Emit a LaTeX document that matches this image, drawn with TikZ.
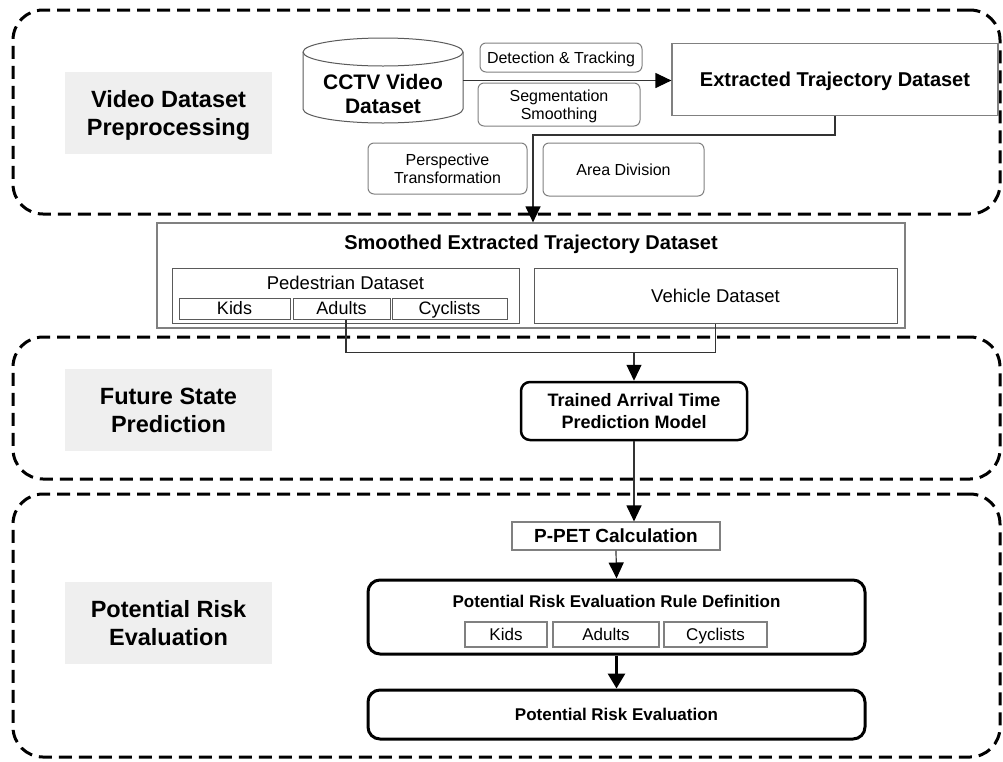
\documentclass[tikz,border=0pt]{standalone}
\usepackage{fontspec}
\setmainfont{Liberation Sans}
\usetikzlibrary{arrows.meta,calc}
\definecolor{lblgray}{HTML}{EFEFEF}
\definecolor{bordgray}{HTML}{808080}
\definecolor{subgray}{HTML}{5A5A5A}
\definecolor{lncol}{HTML}{333333}
\tikzset{
 region/.style={draw=black, line width=3pt, dash pattern=on 13pt off 7pt, rounded corners=30pt, inner sep=0pt},
 lbl/.style={fill=lblgray, align=center, font=\fontsize{23.5}{28}\selectfont\bfseries, minimum width=207pt, minimum height=82pt, inner sep=0pt, text depth=0pt},
 opbox/.style={draw=bordgray, line width=1pt, rounded corners=6pt, align=center, font=\fontsize{16}{18}\selectfont, inner sep=0pt},
 dbox/.style={draw=bordgray, line width=1.2pt, align=center, inner sep=0pt},
 subbox/.style={draw=subgray, line width=1pt, inner sep=0pt},
 oneline/.style={text height=#1, text depth=0pt},
 mbox/.style={draw=black, line width=2.5pt, rounded corners=9pt, align=center, inner sep=0pt},
 arr/.style={draw=lncol, line width=1.2pt, -{Triangle[length=16pt,width=15pt,color=black]}},
 ln/.style={draw=lncol, line width=1.2pt},
 plain/.style={inner sep=0pt, align=center},
}
\begin{document}
\begin{tikzpicture}[x=1pt,y=-1pt]
\useasboundingbox (0,0) rectangle (1003,761);
% regions
\node[region, minimum width=987pt, minimum height=204pt] (r1) at (506.5,112) {};
\node[region, minimum width=987pt, minimum height=142pt] (r2) at (506.5,408) {};
\node[region, minimum width=987pt, minimum height=263pt] (r3) at (506.5,625.5) {};
% stage labels
\node[lbl] (l1) at (168.5,112.5) {Video Dataset\\Preprocessing};
\node[lbl] (l2) at (168.5,410) {Future State\\Prediction};
\node[lbl] (l3) at (168.5,623) {Potential Risk\\Evaluation};
% cylinder
\draw[line width=1pt, draw=subgray, fill=white] (303,52) -- (303,109)
  arc[start angle=180, end angle=360, x radius=80pt, y radius=14pt] -- (463,52)
  arc[start angle=0, end angle=180, x radius=80pt, y radius=14pt] -- cycle;
\draw[line width=1pt, draw=subgray] (303,52) arc[start angle=180, end angle=360, x radius=80pt, y radius=14pt];
\node[minimum width=160pt, minimum height=85pt, inner sep=0pt] (cctv) at (383,80.5) {};
\node[plain, font=\fontsize{21}{24}\selectfont\bfseries] (cctvlbl) at (383,94) {CCTV Video\\Dataset};
% operations
\node[opbox, minimum width=162pt, minimum height=29pt, oneline=11.5pt] (det) at (561,57.5) {Detection \& Tracking};
\node[opbox, minimum width=162pt, minimum height=43pt, text depth=0pt] (seg) at (559,104.5) {Segmentation\\Smoothing};
\node[opbox, minimum width=159pt, minimum height=51pt] (persp) at (447.5,168.5) {Perspective\\Transformation};
\node[opbox, minimum width=161pt, minimum height=53pt, oneline=11.5pt] (area) at (623.5,169.5) {Area Division};
% extracted
\node[dbox, minimum width=326pt, minimum height=72pt, oneline=14.3pt, font=\fontsize{20}{24}\selectfont\bfseries] (ext) at (835,79.5) {Extracted Trajectory Dataset};
\draw[arr] (cctv.east) -- (cctv.east -| ext.west);
% smoothed dataset
\node[dbox, minimum width=748pt, minimum height=105pt] (smooth) at (531,275.5) {};
\node[plain, font=\fontsize{20}{24}\selectfont\bfseries] (smtitle) at (531,244) {Smoothed Extracted Trajectory Dataset};
\node[subbox, minimum width=347pt, minimum height=55pt] (ped) at (345.5,295.5) {};
\node[plain, font=\fontsize{18.5}{22}\selectfont] (pedtitle) at (345.5,283) {Pedestrian Dataset};
\node[subbox, minimum width=111pt, minimum height=21pt, oneline=12.9pt, font=\fontsize{18}{20}\selectfont] (kids) at (234.5,308.5) {Kids};
\node[subbox, minimum width=97pt, minimum height=21pt, oneline=12.9pt, font=\fontsize{18}{20}\selectfont] (adults) at (341.5,308.5) {Adults};
\node[subbox, minimum width=115pt, minimum height=21pt, oneline=12.9pt, font=\fontsize{18}{20}\selectfont] (cyc) at (449.5,308.5) {Cyclists};
\node[subbox, minimum width=363pt, minimum height=55pt, oneline=13.2pt, font=\fontsize{18.5}{22}\selectfont] (veh) at (715.5,295.5) {Vehicle Dataset};
\coordinate (bend) at (533,135);
\draw[arr] (ext.south) |- (bend) -- (bend |- smooth.north);
% prediction
\node[mbox, minimum width=226pt, minimum height=58pt, font=\fontsize{18}{22}\selectfont\bfseries] (trained) at (634,411) {Trained Arrival Time\\Prediction Model};
\coordinate (mergeC) at (634,352);
\draw[ln] ([xshift=4.5pt]adults.south) -- ++(0,33) -| (veh.south);
\draw[arr] (mergeC) -- (trained.north);
% evaluation
\node[dbox, minimum width=208pt, minimum height=28pt, oneline=13.6pt, font=\fontsize{19}{22}\selectfont\bfseries] (ppet) at (616,536) {P-PET Calculation};
\draw[arr] (trained.south) -- (trained.south |- ppet.north);
\node[mbox, line width=3pt, rounded corners=12pt, minimum width=497pt, minimum height=74pt] (rule) at (616.5,617) {};
\node[plain, font=\fontsize{17}{20}\selectfont\bfseries] (ruletitle) at (616.5,601) {Potential Risk Evaluation Rule Definition};
\node[dbox, minimum width=82pt, minimum height=25pt, oneline=12.2pt, font=\fontsize{17}{20}\selectfont] (kids2) at (506,634.5) {Kids};
\node[dbox, minimum width=106pt, minimum height=25pt, oneline=12.2pt, font=\fontsize{17}{20}\selectfont] (adults2) at (606,634.5) {Adults};
\node[dbox, minimum width=103pt, minimum height=25pt, oneline=12.2pt, font=\fontsize{17}{20}\selectfont] (cyc2) at (715.5,634.5) {Cyclists};
\draw[arr] (ppet.south) -- (rule.north);
\node[mbox, line width=3pt, rounded corners=12pt, minimum width=497pt, minimum height=49pt, oneline=12.2pt, font=\fontsize{17}{20}\selectfont\bfseries] (risk) at (616.5,714.5) {Potential Risk Evaluation};
\draw[draw=black, line width=3pt, -{Triangle[length=15pt,width=17pt]}] (rule.south) -- (risk.north);
\end{tikzpicture}
\end{document}
